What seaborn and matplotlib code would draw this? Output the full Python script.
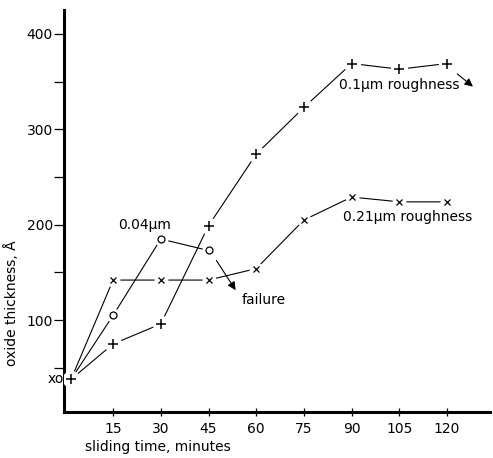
import numpy as np
import pandas as pd
import matplotlib
matplotlib.use("Agg")
import matplotlib.pyplot as plt
import seaborn as sns

# values
time_01 = [1.8, 15, 30, 45, 60, 75, 90, 105, 120]
oxide_01 = [38, 75, 96, 199, 274, 323, 369, 363, 369]

time_004 = [1.8, 15, 30, 45]
oxide_004 = [38, 105, 185, 173]

time_021 = [1.8, 15, 30, 45, 60, 75, 90, 105, 120]
oxide_021 = [38, 142, 142, 142, 154, 205, 229, 224, 224]

x_ticks = [15, 30, 45, 60, 75, 90, 105, 120]
y_ticks = [100, 200, 300, 400]
y_minor = [50, 150, 250, 350]

sns.set_style("ticks")
plt.rcParams['font.family'] = ['DejaVu Sans']
for key in ['text.color', 'axes.labelcolor', 'xtick.color', 'ytick.color', 'axes.edgecolor']:
    plt.rcParams[key] = 'black'

df = pd.concat([
    pd.DataFrame({'time': time_01, 'oxide': oxide_01, 'series': '0.1'}),
    pd.DataFrame({'time': time_004, 'oxide': oxide_004, 'series': '0.04'}),
    pd.DataFrame({'time': time_021, 'oxide': oxide_021, 'series': '0.21'}),
])

fig = plt.figure(figsize=(4.93, 4.58), dpi=100)
ax = fig.add_axes([0.130, 0.100, 0.864, 0.878])

# connecting lines
for name, grp in df.groupby('series'):
    sns.lineplot(data=grp, x='time', y='oxide', ax=ax, color='black',
                 linewidth=0.8, sort=False, estimator=None, legend=False)

# white halo behind markers to leave small gaps in the lines
marker_style = {'0.1': ('+', 7.5, 1.1), '0.04': ('o', 5, 0.9), '0.21': ('x', 5, 0.9)}
for name, grp in df.groupby('series'):
    m, ms, mew = marker_style[name]
    pts = grp if name == '0.1' else grp.iloc[1:]
    ax.plot(pts['time'], pts['oxide'], linestyle='none', marker='o',
            markersize=ms + 4, markerfacecolor='white', markeredgecolor='white', zorder=3)
    ax.plot(pts['time'], pts['oxide'], linestyle='none', marker=m, markersize=ms,
            markerfacecolor='white', markeredgecolor='black', markeredgewidth=mew, zorder=4)

# start point labels for the other two series
ax.text(-0.4, 38, 'xo', ha='right', va='center', fontsize=10, clip_on=False)

# arrows
ax.annotate('', xy=(128.8, 343), xytext=(122.5, 360),
            arrowprops=dict(arrowstyle='-|>', color='black', lw=0.8, mutation_scale=12))
ax.annotate('', xy=(54, 129), xytext=(47, 165),
            arrowprops=dict(arrowstyle='-|>', color='black', lw=0.8, mutation_scale=12))

# labels on the curves
ax.text(25, 200, '0.04µm', ha='center', va='center', fontsize=10)
ax.text(105, 346, '0.1µm roughness', ha='center', va='center', fontsize=10)
ax.text(107.5, 208, '0.21µm roughness', ha='center', va='center', fontsize=10)
ax.text(55.5, 121, 'failure', ha='left', va='center', fontsize=10)

ax.set_xlim(-0.4, 133.5)
ax.set_ylim(3.5, 425)
ax.set_xticks(x_ticks)
ax.set_yticks(y_ticks)
ax.set_yticks(y_minor, minor=True)
ax.tick_params(axis='y', which='major', direction='out', length=7, width=0.9, labelsize=10, pad=1)
ax.tick_params(axis='y', which='minor', direction='out', length=7, width=0.9)
ax.tick_params(axis='x', which='major', direction='inout', length=6, width=0.9, labelsize=10, pad=4)

for s in ['top', 'right']:
    ax.spines[s].set_visible(False)
for s in ['left', 'bottom']:
    ax.spines[s].set_linewidth(2.2)

ax.set_xlabel('sliding time, minutes', fontsize=10, labelpad=1)
ax.set_ylabel('oxide thickness, Å', fontsize=10, labelpad=3)
ax.yaxis.set_label_coords(-0.105, 0.27)
ax.xaxis.set_label_coords(0.22, -0.07)

fig.savefig('out.png', dpi=100)
